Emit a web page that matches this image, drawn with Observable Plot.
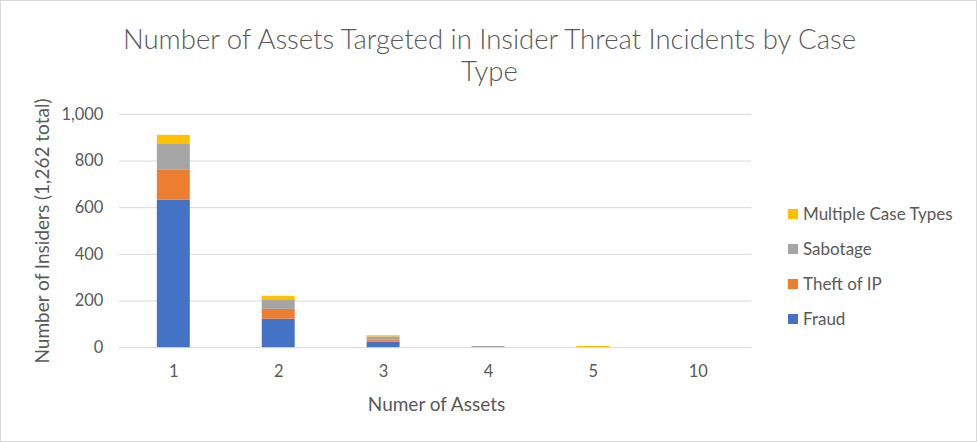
<!DOCTYPE html>
<html>
<head>
<meta charset="utf-8">
<script src="https://cdn.jsdelivr.net/npm/d3@7"></script>
<script src="https://cdn.jsdelivr.net/npm/@observablehq/plot@0.6"></script>
<style>
  body { margin: 0; background: #fff; }
  #wrap { position: relative; width: 975px; height: 440px; border: 1px solid #d9d9d9; overflow: hidden; font-family: Lato, "Open Sans", sans-serif; color: #595959; }
  #title { position: absolute; left: 0; top: 22px; width: 977px; text-align: center; font-size: 27.5px; line-height: 32px; font-weight: 300; color: #595959; white-space: nowrap; }
  #chart { position: absolute; left: -1px; top: -1px; }
  #legend { position: absolute; left: 787px; top: 195px; font-size: 17px; }
  .item { height: 35px; display: flex; align-items: center; }
  .sw { width: 10px; height: 10px; margin-right: 5px; }
  #xlabel { position: absolute; left: 119px; width: 633px; top: 391px; text-align: center; font-size: 19px; line-height: 24px; }
  #ylabel { position: absolute; left: 41px; top: 230px; font-size: 19px; line-height: 24px; white-space: nowrap; transform: translate(-50%, -50%) rotate(-90deg); }
</style>
</head>
<body>
<div id="wrap">
  <div id="chart"></div>
  <div id="title">Number of Assets Targeted in Insider Threat Incidents by Case<br>Type</div>
  <div id="xlabel">Numer of Assets</div>
  <div id="ylabel">Number of Insiders (1,262 total)</div>
  <div id="legend"></div>
</div>
<script>
const assets = ["1", "2", "3", "4", "5", "10"];
const caseTypes = ["Fraud", "Theft of IP", "Sabotage", "Multiple Case Types"];
const fraud    = [632, 122, 24, 0, 0, 0];
const theftIP  = [128, 42, 9, 0, 0, 0];
const sabotage = [111, 38, 13, 5, 0, 0];
const multiple = [39, 18, 5, 0, 5, 0];
const colors = ["#4472C4", "#ED7D31", "#A5A5A5", "#FFC000"];
const yTicks = [0, 200, 400, 600, 800, 1000];

const series = [fraud, theftIP, sabotage, multiple];
const rows = [];
assets.forEach((a, i) => {
  caseTypes.forEach((t, j) => rows.push({assets: a, type: t, value: series[j][i]}));
});

const chart = Plot.plot({
  width: 977,
  height: 442,
  marginLeft: 119,
  marginRight: 225,
  marginTop: 114,
  marginBottom: 94.5,
  style: { fontFamily: "Lato, 'Open Sans', sans-serif", fontSize: "16.5px", color: "#595959", background: "transparent" },
  x: { domain: assets, paddingInner: 0.69, paddingOuter: 0.345, label: null },
  y: { domain: [0, 1000], label: null },
  color: { domain: caseTypes, range: colors },
  marks: [
    Plot.gridY(yTicks, { stroke: "#d9d9d9", strokeOpacity: 1 }),
    Plot.barY(rows, { x: "assets", y: "value", fill: "type", order: caseTypes }),
    Plot.axisX({ tickSize: 0, tickPadding: 18, fontSize: 16.5, label: null }),
    Plot.axisY(yTicks, { tickSize: 0, tickPadding: 16, fontSize: 16.5, tickFormat: d3.format(","), label: null })
  ]
});
document.getElementById("chart").appendChild(chart);

const legend = document.getElementById("legend");
caseTypes.slice().reverse().forEach(t => {
  const c = colors[caseTypes.indexOf(t)];
  const d = document.createElement("div");
  d.className = "item";
  d.innerHTML = `<span class="sw" style="background:${c}"></span><span>${t}</span>`;
  legend.appendChild(d);
});
</script>
</body>
</html>
